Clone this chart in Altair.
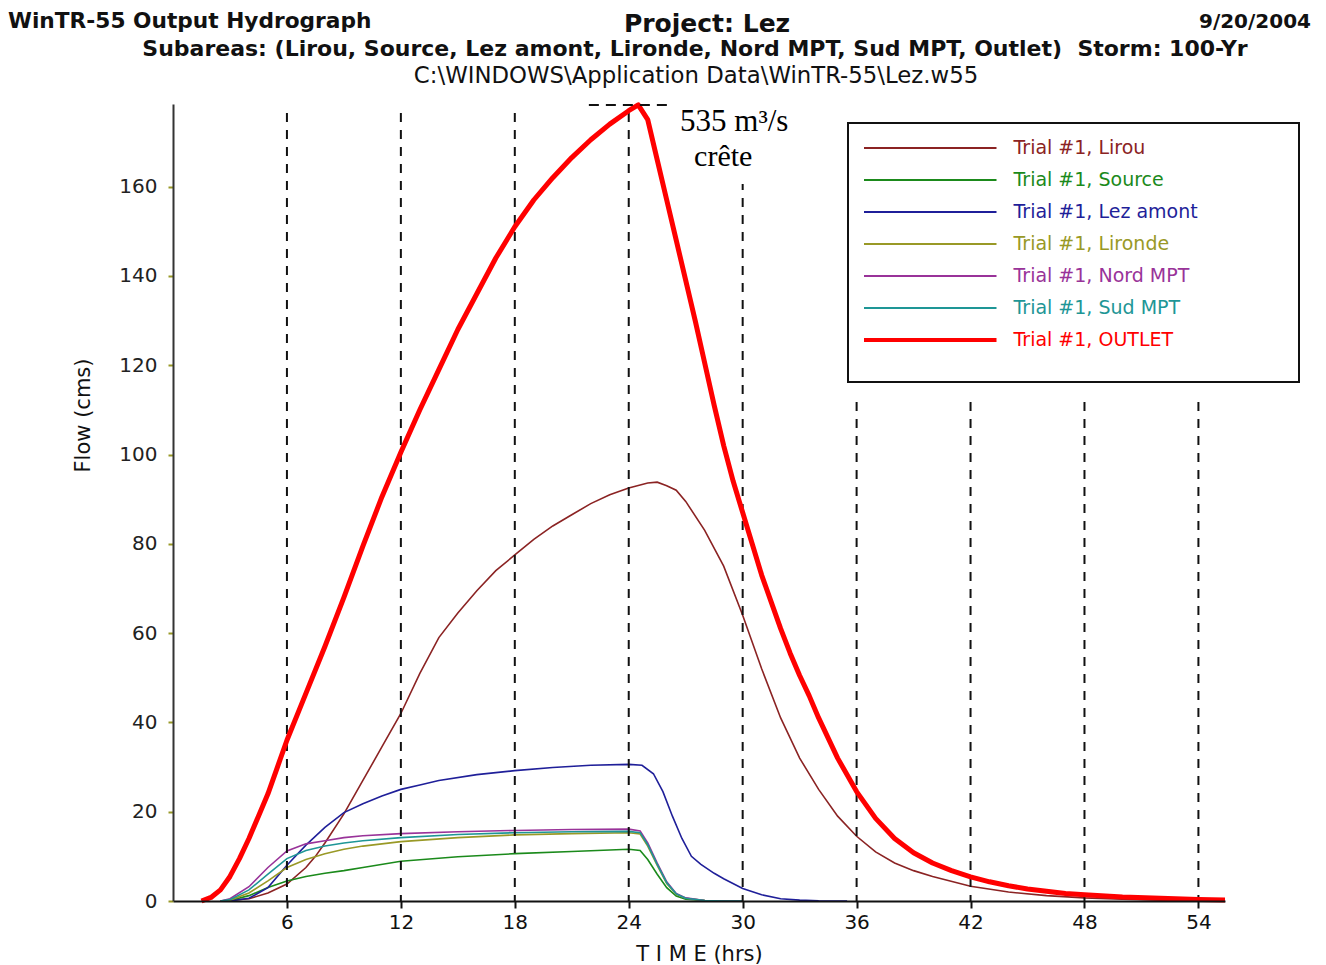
import altair as alt
import pandas as pd

OUTLET = "Trial #1, OUTLET"
SERIES = ["Trial #1, Lirou", "Trial #1, Source", "Trial #1, Lez amont", "Trial #1, Lironde",
          "Trial #1, Nord MPT", "Trial #1, Sud MPT", OUTLET]
COLORS = ["#8b2323", "#1b8a1b", "#1f1f99", "#999926", "#993399", "#1e9696", "#ff0000"]

# ---- data (time in hours, flow in cms) ----
outlet_t = [1.5, 2, 2.5, 3, 3.5, 4, 4.5, 5, 5.5, 6, 7, 8, 9, 10, 11, 12, 13, 14, 15, 16, 17, 18, 19, 20,
            21, 22, 23, 24, 24.5, 25, 25.5, 26, 26.5, 27, 27.5, 28, 28.5, 29, 29.5, 30, 30.5, 31, 31.5, 32,
            32.5, 33, 33.5, 34, 35, 36, 37, 38, 39, 40, 41, 42, 43, 44, 45, 46, 47, 48, 50, 52, 54, 55.4]
outlet_q = [0, 0.8, 2.5, 5.5, 9.5, 14, 19, 24, 30, 36, 46.5, 57, 68, 79.5, 90.5, 100.5, 110, 119, 128, 136,
            144, 151, 157, 162, 166.5, 170.5, 174, 177, 178.3, 175, 166, 157, 148, 139, 130, 120.5, 111, 102,
            94, 87, 80, 73, 67, 61, 55.5, 50.5, 46, 41, 32, 24.5, 18.5, 14, 10.8, 8.5, 6.8, 5.4, 4.3, 3.4,
            2.7, 2.2, 1.7, 1.4, 0.9, 0.6, 0.35, 0.25]

lirou_t = [2.5, 3, 4, 5, 6, 7, 7.5, 8, 9, 10, 11, 12, 13, 14, 15, 16, 17, 18, 19, 20, 21, 22, 23, 24,
           25, 25.5, 26, 26.5, 27, 28, 29, 30, 31, 32, 33, 34, 35, 36, 37, 38, 39, 40, 42, 44, 46, 48,
           50, 52, 55.4]
lirou_q = [0, 0.1, 0.5, 1.8, 3.8, 7.5, 10, 13, 19.5, 27, 34.5, 42, 51, 59, 64.5, 69.5, 74, 77.5, 81, 84,
           86.5, 89, 91, 92.5, 93.6, 93.8, 93, 92, 89.5, 83, 75, 64, 52, 41, 32, 25, 19, 14.5, 11, 8.5,
           6.8, 5.5, 3.3, 2.0, 1.2, 0.7, 0.4, 0.2, 0.1]

lez_t = [3, 4, 5, 6, 7, 8, 9, 10, 11, 12, 13, 14, 16, 18, 20, 22, 24, 24.7, 25.3, 25.8, 26.3, 26.8,
         27.3, 27.8, 28.5, 29, 30, 31, 32, 33, 34, 35.5]
lez_q = [0, 0.6, 3, 8, 12.5, 16.5, 19.8, 21.8, 23.5, 25, 26, 27, 28.3, 29.2, 29.9, 30.4, 30.6, 30.4,
         28.5, 24.5, 19, 14, 10, 8.2, 6.2, 5, 2.8, 1.4, 0.5, 0.2, 0.05, 0]

small_t = [2.5, 3, 4, 5, 6, 7, 8, 9, 10, 12, 15, 18, 21, 24, 24.6, 25, 25.5, 26, 26.5, 27, 28, 29, 30]
source_q = [0, 0.1, 1.2, 3, 4.5, 5.5, 6.2, 6.8, 7.5, 8.9, 9.9, 10.6, 11.1, 11.6, 11.3, 9.3, 6.0, 3.0,
            1.1, 0.4, 0.1, 0, 0]
lironde_q = [0, 0.2, 1.8, 4.5, 7.5, 9.3, 10.6, 11.6, 12.3, 13.3, 14.2, 14.8, 15.1, 15.3, 15.0, 12.3,
             8.0, 3.9, 1.5, 0.6, 0.1, 0, 0]
nord_q = [0, 0.5, 3.2, 7.5, 11.2, 12.8, 13.5, 14.2, 14.6, 15.1, 15.5, 15.8, 16, 16.1, 15.7, 13, 8.5,
          4.3, 1.7, 0.7, 0.1, 0, 0]
sud_q = [0, 0.3, 2.5, 6, 9.5, 11.3, 12.3, 13, 13.5, 14.2, 14.9, 15.3, 15.5, 15.6, 15.3, 12.6, 8.2,
         4.1, 1.6, 0.6, 0.1, 0, 0]

grid_hours = [6, 12, 18, 24, 30, 36, 42, 48, 54]
x_ticks = [6, 12, 18, 24, 30, 36, 42, 48, 54]
y_ticks = [0, 20, 40, 60, 80, 100, 120, 140, 160]

peak_hour, peak_flow = 24.5, 178.3
peak_line_start, peak_line_end = 21.9, 26.3

# ---- build long table ----
rows = []
for name, ts, qs in [
    (SERIES[0], lirou_t, lirou_q),
    (SERIES[1], small_t, source_q),
    (SERIES[2], lez_t, lez_q),
    (SERIES[3], small_t, lironde_q),
    (SERIES[4], small_t, nord_q),
    (SERIES[5], small_t, sud_q),
    (SERIES[6], outlet_t, outlet_q),
]:
    for i, (t, q) in enumerate(zip(ts, qs)):
        rows.append({"series": name, "hour": t, "flow": q, "i": i})
df = pd.DataFrame(rows)

FONT = "DejaVu Sans"
W, H = 1052, 797

X = alt.X("hour:Q", scale=alt.Scale(domain=[0, 55.4], nice=False, zero=False),
          axis=alt.Axis(values=x_ticks, title="T I M E (hrs)", grid=False,
                        domainColor="#111", domainWidth=2, tickColor="#111", tickWidth=2, tickSize=7,
                        labelFont=FONT, labelFontSize=20, labelColor="#111", labelPadding=4,
                        titleFont=FONT, titleFontSize=21, titleFontWeight="normal", titleColor="#111",
                        titleX=526, titleY=53, titleBaseline="middle", zindex=1))
Y = alt.Y("flow:Q", scale=alt.Scale(domain=[0, 178.5], nice=False),
          axis=alt.Axis(values=y_ticks, title="Flow (cms)", grid=False,
                        domainColor="#333", domainWidth=2, tickColor="#999926", tickWidth=2, tickSize=5,
                        labelFont=FONT, labelFontSize=20, labelColor="#222", labelPadding=11,
                        titleFont=FONT, titleFontSize=21, titleFontWeight="normal", titleColor="#111",
                        titleX=-90, titleY=311, titleBaseline="middle", titleAngle=270, zindex=1))

LEG = alt.Legend(
    title=None, orient="none", legendX=691, legendY=28, padding=0,
    symbolType="stroke", symbolSize=17689, clipHeight=32,
    symbolStrokeWidth={"expr": f"datum.value === '{OUTLET}' ? 4 : 2"},
    labelColor={"expr": "scale('color', datum.value)"},
    symbolOffset=56.5, labelOffset=74,
    rowPadding=0, labelFont=FONT, labelFontSize=19, labelLimit=500,
)
COLOR = alt.Color("series:N", scale=alt.Scale(domain=SERIES, range=COLORS), legend=LEG)

thin = alt.Chart(df).transform_filter(alt.datum.series != OUTLET).mark_line(
    strokeWidth=1.6).encode(x=X, y=Y, color=COLOR, order="i:Q")

grid = alt.Chart(pd.DataFrame({"hour": grid_hours})).mark_rule(
    strokeDash=[9, 8], strokeWidth=2, color="#111").encode(
    x=X, y=alt.value(9), y2=alt.value(H))

one = pd.DataFrame({"k": [0]})


def box(x, x2, y, y2, fill="white", stroke=None, sw=0):
    kw = dict(fill=fill)
    if stroke:
        kw.update(stroke=stroke, strokeWidth=sw)
    return alt.Chart(one).mark_rect(**kw).encode(
        x=alt.value(x), x2=alt.value(x2), y=alt.value(y), y2=alt.value(y2))


anno_bg = box(530, 612, 0, 80)
legend_bg = box(667, 1132, 0, 291)
legend_frame = box(675, 1126, 19, 278, fill="white", stroke="#111", sw=2)

red = alt.Chart(df).transform_filter(alt.datum.series == OUTLET).mark_line(
    strokeWidth=5, strokeJoin="round").encode(x=X, y=Y, color=COLOR, order="i:Q")

peak_df = pd.DataFrame({"hour": [peak_line_start], "hour_end": [peak_line_end], "flow": [peak_flow]})
peak_rule = alt.Chart(peak_df).mark_rule(strokeDash=[10, 7], strokeWidth=2, color="#111").encode(
    x=X, x2="hour_end:Q", y=Y)

anno_df = pd.DataFrame({"hour": [peak_hour], "flow": [peak_flow]})
anno1 = alt.Chart(anno_df).mark_text(text="535 m³/s", font="Liberation Serif", fontSize=31,
                                     align="center", baseline="alphabetic", dx=96, dy=26,
                                     color="#000").encode(x=X, y=Y)
anno2 = alt.Chart(anno_df).mark_text(text="crête", font="Liberation Serif", fontSize=30,
                                     align="center", baseline="alphabetic", dx=85, dy=61,
                                     color="#000").encode(x=X, y=Y)


def label(text, x, y, size, weight, align):
    return alt.Chart(one).mark_text(text=text, font=FONT, fontSize=size, fontWeight=weight,
                                    align=align, baseline="alphabetic", color="#111").encode(
        x=alt.value(x), y=alt.value(y))


h1 = label("WinTR-55 Output Hydrograph", -165, -76, 21.7, "bold", "left")
h2 = label("Project: Lez", 534, -72, 25, "bold", "center")
h3 = label("9/20/2004", 1138, -76, 20, "bold", "right")
h4 = label("Subareas: (Lirou, Source, Lez amont, Lironde, Nord MPT, Sud MPT, Outlet)\u00a0 Storm: 100-Yr",
           522, -48, 22, "bold", "center")
h5 = label("C:\\WINDOWS\\Application Data\\WinTR-55\\Lez.w55", 523, -21, 22.8, "normal", "center")

chart = alt.layer(
    thin, grid, anno_bg, legend_bg, legend_frame, red, peak_rule, anno1, anno2, h1, h2, h3, h4, h5
).properties(
    width=W, height=H,
    autosize=alt.AutoSizeParams(type="none"),
    padding={"left": 165, "top": 96, "right": 93, "bottom": 64},
    background="white",
).configure_view(stroke=None)

chart.save("out.html", embed_options={"renderer": "svg", "actions": False})
